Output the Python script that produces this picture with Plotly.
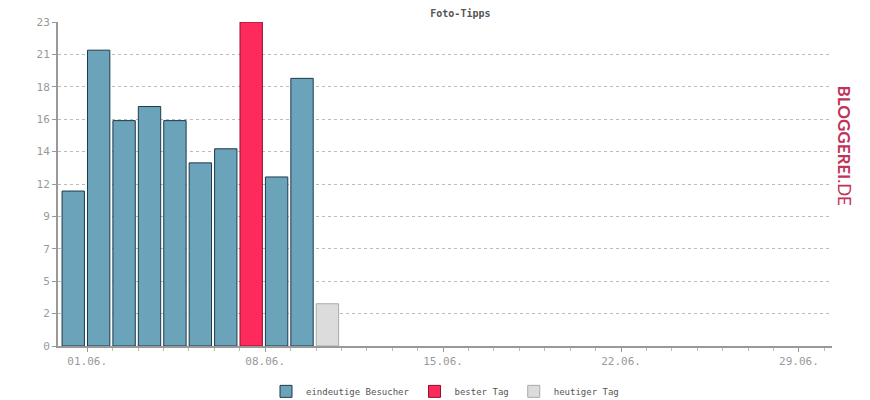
import plotly.graph_objects as go

days = list(range(1, 31))
visitors = [11, 21, 16, 17, 16, 13, 14, 23, 12, 19]
best_day = 8
today = 11
today_value = 3
tick_days = [1, 8, 15, 22, 29]
tick_labels = ["01.06.", "08.06.", "15.06.", "22.06.", "29.06."]
y_ticks = [0, 2.3, 4.6, 6.9, 9.2, 11.5, 13.8, 16.1, 18.4, 20.7, 23]
y_labels = ["0", "2", "5", "7", "9", "12", "14", "16", "18", "21", "23"]

normal_x = [d for d in range(1, 11) if d != best_day]
normal_y = [visitors[d - 1] for d in normal_x]

fig = go.Figure()
fig.add_bar(x=normal_x, y=normal_y, name="eindeutige Besucher", width=0.88,
            marker=dict(color="#6aa3ba", line=dict(color="#1d3b4a", width=1)))
fig.add_bar(x=[best_day], y=[visitors[best_day - 1]], name="bester Tag", width=0.88,
            marker=dict(color="#ff2a5c", line=dict(color="#8a1030", width=1)))
fig.add_bar(x=[today], y=[today_value], name="heutiger Tag", width=0.88,
            marker=dict(color="#dcdcdc", line=dict(color="#aaaaaa", width=1)))

fig.update_layout(
    width=870, height=400, barmode="overlay",
    plot_bgcolor="white", paper_bgcolor="white",
    margin=dict(l=50, r=46, t=14, b=62, autoexpand=False),
    font=dict(family="DejaVu Sans Mono", size=11, color="#999999"),
    title=dict(text="<b>Foto-Tipps</b>", x=0.52, y=0.995, xanchor="center",
               font=dict(size=10, color="#555555")),
    legend=dict(orientation="h", x=0.5, xanchor="center", y=-0.14, yanchor="middle",
                font=dict(size=9, color="#555555"), itemwidth=30, traceorder="normal"),
    showlegend=True,
)
fig.update_xaxes(range=[0.4, 30.85], tickvals=[d + 0.55 for d in tick_days], ticktext=tick_labels,
                 showgrid=False, showline=True, linecolor="#999999", linewidth=2,
                 ticks="outside", ticklen=4, tickcolor="#999999",
                 minor=dict(tickvals=[d + 0.55 for d in days], ticks="outside", ticklen=3, tickcolor="#bbbbbb"))
fig.update_yaxes(range=[0, 23], tickvals=y_ticks, ticktext=y_labels,
                 showgrid=True, gridcolor="#bbbbbb", griddash="dot",
                 showline=True, linecolor="#999999", linewidth=2,
                 ticks="outside", ticklen=4, tickcolor="#999999", zeroline=False)
fig.add_annotation(text="<b>BLOGGEREI</b>.DE", xref="paper", yref="paper", x=1.0, y=0.62,
                   xanchor="left", textangle=90, showarrow=False,
                   font=dict(family="Lato", size=17, color="#c0335a"))
fig.write_html("out.html")
